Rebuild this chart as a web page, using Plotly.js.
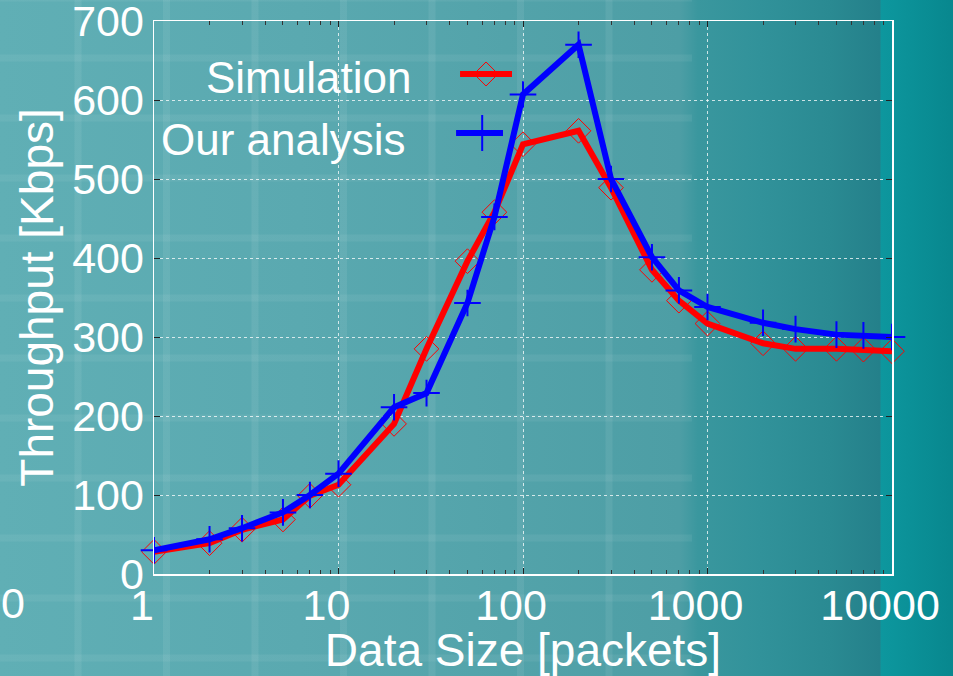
<!DOCTYPE html>
<html>
<head>
<meta charset="utf-8">
<script src="https://cdn.plot.ly/plotly-3.0.1.min.js"></script>
<style>
html, body { margin:0; padding:0; width:953px; height:676px; overflow:hidden; }
body {
  background-image:
    repeating-linear-gradient(90deg, rgba(255,255,255,0) 0px, rgba(255,255,255,0) 74px, rgba(255,255,255,0.07) 75px, rgba(255,255,255,0.07) 81px, rgba(255,255,255,0) 82px, rgba(255,255,255,0) 88.5px),
    repeating-linear-gradient(180deg, rgba(255,255,255,0.06) 0px, rgba(255,255,255,0.06) 1px, rgba(255,255,255,0) 2px, rgba(255,255,255,0) 54px, rgba(255,255,255,0.06) 55px, rgba(255,255,255,0.06) 60px),
    linear-gradient(to right, #60afb5 0px, #5aa9b0 300px, #4d9ea5 680px, #3a979e 698px, #31929a 760px, #2a8a92 830px, #24808a 880px, #0d979e 881px, #08878e 953px);
  background-size: 692px 676px, 692px 676px, 953px 676px;
  background-repeat: no-repeat;
}
#chart { width:953px; height:676px; }
</style>
</head>
<body>
<div id="chart"></div>
<script>
const dataSize = [1,2,3,5,7,10,20,30,50,70,100,200,300,500,700,1000,2000,3000,5000,7000,10000];
const simulation = [28,39,56,69,99,113,190,285,396,458,544,561,489,385,346,317,292,285,285,284,282];
const analysis = [30,44,58,78,100,127,211,229,343,452,607,670,500,401,359,338,318,310,303,302,300];
const xTickVals = [1,10,100,1000,10000];
const xTickText = ['1','10','100','1000','10000'];
const yTickVals = [0,100,200,300,400,500,600,700];
const seriesNames = ['Simulation','Our analysis'];

const FONT = 'Liberation Sans, Arial, sans-serif';

const traces = [
  {x: dataSize, y: simulation, name: seriesNames[0], mode:'lines+markers', cliponaxis:false,
   line:{color:'#ff0000', width:6},
   marker:{symbol:'diamond-open', size:19, color:'#ff0000', line:{color:'#ff0000', width:1}}},
  {x: dataSize, y: analysis, name: seriesNames[1], mode:'lines+markers', cliponaxis:false,
   line:{color:'#0000ff', width:6},
   marker:{symbol:'cross-thin-open', size:19, color:'#0000ff', line:{color:'#0000ff', width:2}}}
];

// legend geometry (paper coords)
const px = 1/738.6, py = 1/553;
const sx = 0.4499, sy = 0.9042, ax = 0.4447, ay = 0.7975;

const layout = {
  width:953, height:676,
  paper_bgcolor:'rgba(0,0,0,0)', plot_bgcolor:'rgba(0,0,0,0)',
  margin:{l:154, r:61, t:21, b:102},
  showlegend:false,
  font:{family:FONT, color:'#ffffff'},
  xaxis:{
    type:'log', range:[0,4], tickvals:xTickVals, ticktext:xTickText,
    tickfont:{size:43, color:'#ffffff', family:FONT}, ticklabelshift:-12, ticklabelstandoff:-7,
    ticklabeloverflow:'allow',
    ticks:'inside', ticklen:6, tickcolor:'#222', tickwidth:1,
    minor:{ticks:'inside', ticklen:4, tickcolor:'#333', dtick:'D1', showgrid:false},
    showline:true, linecolor:'#ffffff', linewidth:1.5, mirror:'ticks',
    showgrid:true, gridcolor:'rgba(255,255,255,0.75)', griddash:'dot', gridwidth:1,
    zeroline:false,
    title:{text:'Data Size [packets]', font:{size:46, color:'#ffffff', family:FONT}, standoff:3}
  },
  yaxis:{
    range:[0,700], tickvals:yTickVals,
    tickfont:{size:43, color:'#ffffff', family:FONT}, ticklabeloverflow:'allow',
    ticks:'inside', ticklen:6, tickcolor:'#222', tickwidth:1,
    showline:true, linecolor:'#ffffff', linewidth:1.5, mirror:'ticks',
    showgrid:true, gridcolor:'rgba(255,255,255,0.75)', griddash:'dot', gridwidth:1,
    zeroline:false,
    title:{text:'Throughput [Kbps]', font:{size:46, color:'#ffffff', family:FONT}, standoff:4}
  },
  annotations:[
    {xref:'paper', yref:'paper', x:0.351, y:0.897, xanchor:'right', yanchor:'middle', showarrow:false,
     text:seriesNames[0], font:{size:44, color:'#ffffff', family:FONT}},
    {xref:'paper', yref:'paper', x:0.344, y:0.786, xanchor:'right', yanchor:'middle', showarrow:false,
     text:seriesNames[1], font:{size:44, color:'#ffffff', family:FONT}},
    {xref:'paper', yref:'paper', x:-141*px, y:-29*py, xanchor:'center', yanchor:'middle', showarrow:false,
     text:'0', font:{size:43, color:'#ffffff', family:FONT}}
  ],
  shapes:[
    {type:'line', xref:'paper', yref:'paper', x0:0.4147, x1:0.4851, y0:sy, y1:sy, line:{color:'#ff0000', width:6}},
    {type:'path', xref:'paper', yref:'paper',
     path:`M ${sx-12*px} ${sy} L ${sx} ${sy+12*py} L ${sx+12*px} ${sy} L ${sx} ${sy-12*py} Z`,
     line:{color:'#ff0000', width:1}},
    {type:'line', xref:'paper', yref:'paper', x0:0.4093, x1:0.4729, y0:ay, y1:ay, line:{color:'#0000ff', width:6}},
    {type:'line', xref:'paper', yref:'paper', x0:ax, x1:ax, y0:ay-18*py, y1:ay+18*py, line:{color:'#0000ff', width:2}},
    {type:'line', xref:'paper', yref:'paper', x0:ax-13*px, x1:ax+13*px, y0:ay, y1:ay, line:{color:'#0000ff', width:2}}
  ]
};

Plotly.newPlot('chart', traces, layout, {displayModeBar:false, staticPlot:true});
</script>
</body>
</html>
